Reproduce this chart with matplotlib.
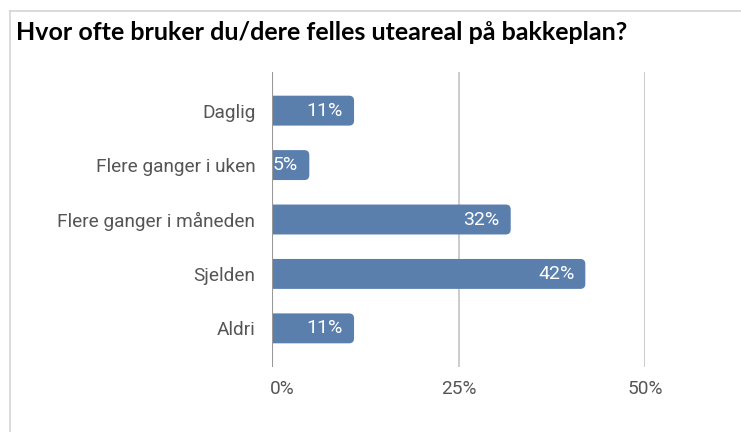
import matplotlib
matplotlib.use("Agg")
import matplotlib.pyplot as plt
from matplotlib.patches import FancyBboxPatch
from matplotlib.lines import Line2D
from matplotlib.transforms import ScaledTranslation

# data
categories = ["Daglig", "Flere ganger i uken", "Flere ganger i måneden", "Sjelden", "Aldri"]
values = [11, 5, 32, 42, 11]
value_labels = ["11%", "5%", "32%", "42%", "11%"]
x_ticks = [0, 25, 50]
x_tick_labels = ["0%", "25%", "50%"]

title = "Hvor ofte bruker du/dere felles uteareal på bakkeplan?"
bar_color = "#5a7fac"

fig = plt.figure(figsize=(7.41, 4.32), dpi=100)
fig.patch.set_facecolor("white")

# light frame round the picture (top and left only)
fig.add_artist(Line2D([10/741, 1], [1 - 11/432, 1 - 11/432], color="#d4d4d4", lw=1.2))
fig.add_artist(Line2D([10/741, 10/741], [0, 1 - 11/432], color="#d4d4d4", lw=1.2))

fig.text(16/741, 1 - 32/432, title, fontsize=18, fontweight="bold",
         family=["Lato", "DejaVu Sans"], va="center", ha="left")

ax = fig.add_axes([272/741, 65/432, (645 - 272)/741, (367 - 72)/432])
ax.set_xlim(0, 50)
ax.set_ylim(4.71, -0.71)
for s in ax.spines.values():
    s.set_visible(False)

ypos = list(range(len(categories)))
bars = ax.barh(ypos, values, height=0.55, color=bar_color)

# swap the bars for ones with rounded right corners
# (left end starts past the axis so its rounding is clipped away)
px_x = (645 - 272) / 50.0
px_y = 295 / 5.42
r = 5 / px_x
for b in bars:
    x0, y0, w, h = b.get_x(), b.get_y(), b.get_width(), b.get_height()
    b.set_visible(False)
    ax.add_patch(FancyBboxPatch((x0 - 2 * r, y0), w + 2 * r, h,
                                boxstyle=f"round,pad=0,rounding_size={r}",
                                mutation_aspect=px_x / px_y,
                                color=bar_color, lw=0, zorder=2))

for y, v, lab in zip(ypos, values, value_labels):
    ax.text(v - 11 / px_x, y, lab, ha="right", va="center", color="white",
            fontsize=14, family="Roboto", zorder=3)

ax.set_xticks(x_ticks)
ax.set_xticklabels(x_tick_labels)
ax.set_yticks(ypos)
ax.set_yticklabels(categories)
ax.tick_params(axis="both", length=0, colors="#555555", labelsize=13.7)
ax.tick_params(axis="x", pad=9)
ax.tick_params(axis="y", pad=12)
for t in ax.get_xticklabels() + ax.get_yticklabels():
    t.set_family("Roboto")
# first x label sits to the right of the axis line
first = ax.get_xticklabels()[0]
first.set_ha("left")
first.set_transform(first.get_transform() + ScaledTranslation(-2/100, 0, fig.dpi_scale_trans))

for xv in x_ticks[1:]:
    ax.axvline(xv, color="#c4c4c4", lw=1.2, zorder=0)
ax.axvline(0, color="#999999", lw=1.5, zorder=4)

fig.savefig("out.png", dpi=100, facecolor="white")
